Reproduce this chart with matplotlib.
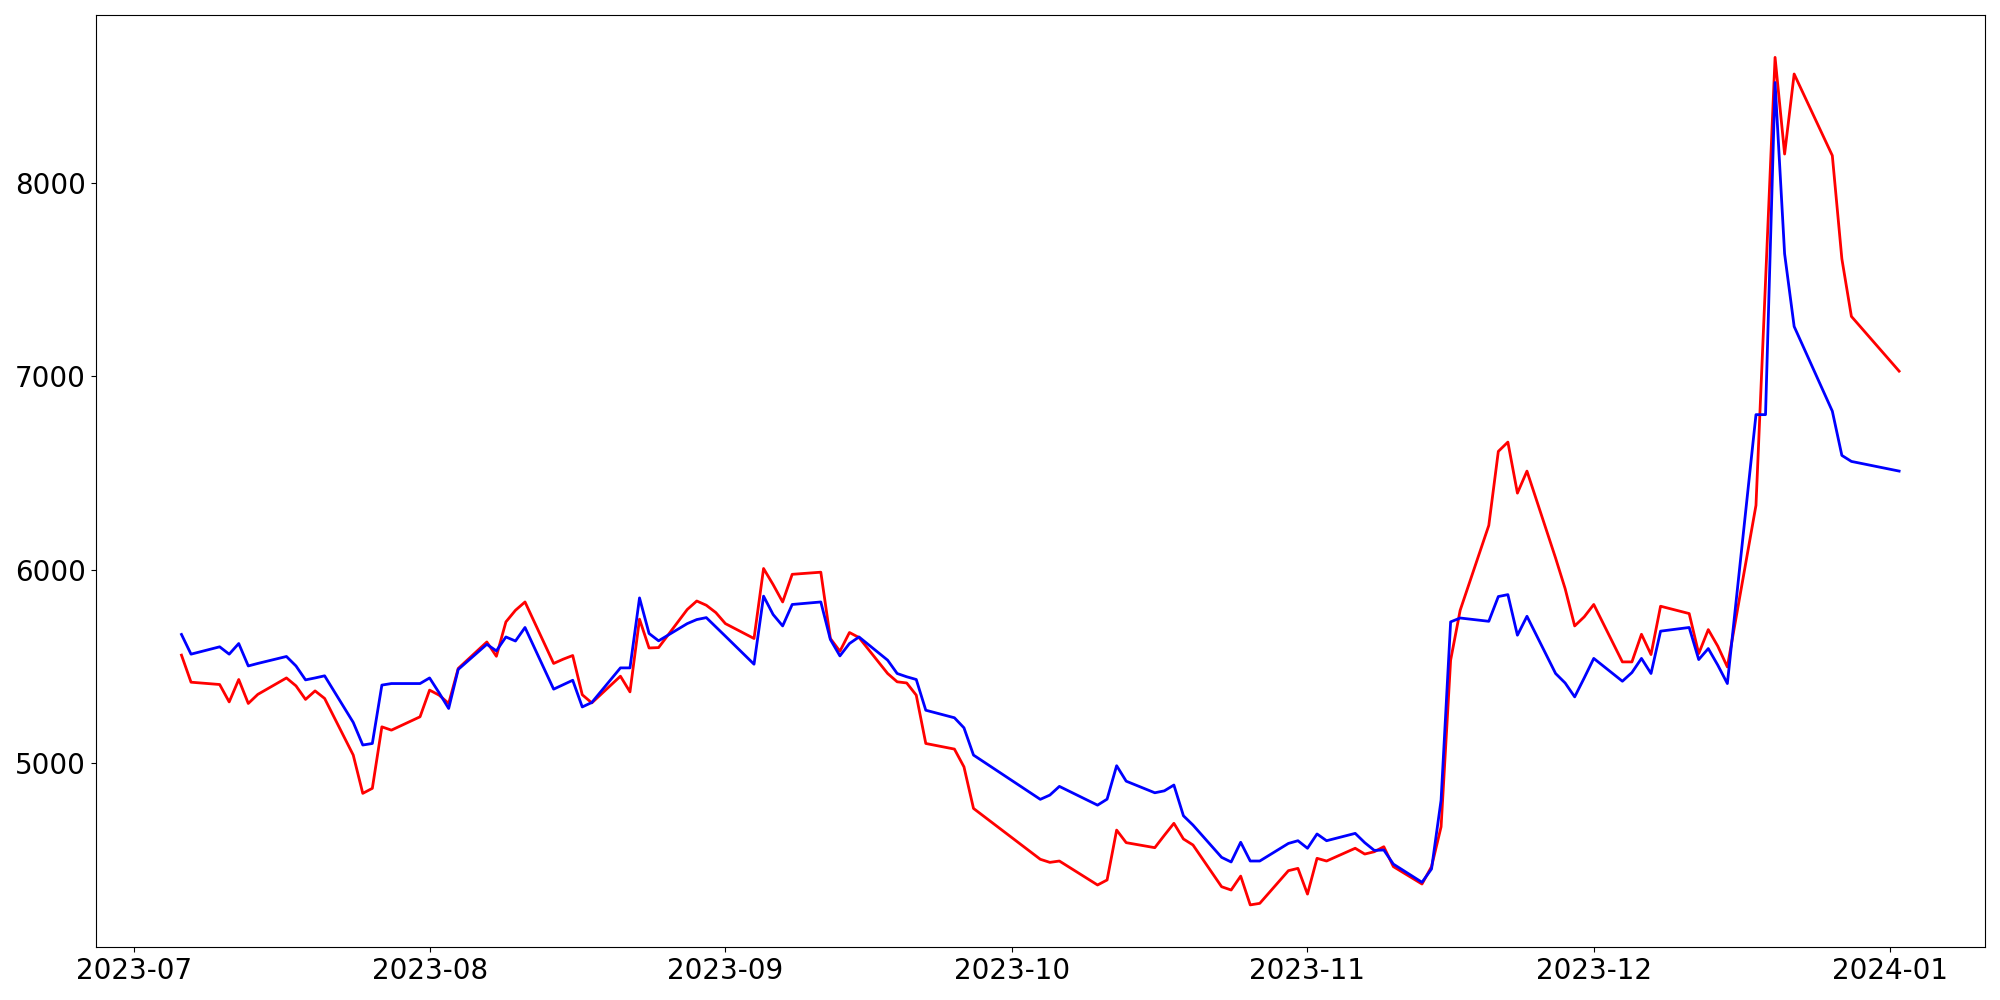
import pandas as pd
import matplotlib
matplotlib.use("Agg")
import matplotlib.pyplot as plt

dates = [
    "2023-07-06", "2023-07-07", "2023-07-10", "2023-07-11", "2023-07-12", "2023-07-13", "2023-07-14",
    "2023-07-17", "2023-07-18", "2023-07-19", "2023-07-20", "2023-07-21",
    "2023-07-24", "2023-07-25", "2023-07-26", "2023-07-27", "2023-07-28",
    "2023-07-31", "2023-08-01", "2023-08-02", "2023-08-03", "2023-08-04",
    "2023-08-07", "2023-08-08", "2023-08-09", "2023-08-10", "2023-08-11",
    "2023-08-14", "2023-08-15", "2023-08-16", "2023-08-17", "2023-08-18",
    "2023-08-21", "2023-08-22", "2023-08-23", "2023-08-24", "2023-08-25",
    "2023-08-28", "2023-08-29", "2023-08-30", "2023-08-31", "2023-09-01",
    "2023-09-04", "2023-09-05", "2023-09-06", "2023-09-07", "2023-09-08",
    "2023-09-11", "2023-09-12", "2023-09-13", "2023-09-14", "2023-09-15",
    "2023-09-18", "2023-09-19", "2023-09-20", "2023-09-21", "2023-09-22",
    "2023-09-25", "2023-09-26", "2023-09-27",
    "2023-10-04", "2023-10-05", "2023-10-06",
    "2023-10-10", "2023-10-11", "2023-10-12", "2023-10-13",
    "2023-10-16", "2023-10-17", "2023-10-18", "2023-10-19", "2023-10-20",
    "2023-10-23", "2023-10-24", "2023-10-25", "2023-10-26", "2023-10-27",
    "2023-10-30", "2023-10-31", "2023-11-01", "2023-11-02", "2023-11-03",
    "2023-11-06", "2023-11-07", "2023-11-08", "2023-11-09", "2023-11-10",
    "2023-11-13", "2023-11-14", "2023-11-15", "2023-11-16", "2023-11-17",
    "2023-11-20", "2023-11-21", "2023-11-22", "2023-11-23", "2023-11-24",
    "2023-11-27", "2023-11-28", "2023-11-29", "2023-11-30", "2023-12-01",
    "2023-12-04", "2023-12-05", "2023-12-06", "2023-12-07", "2023-12-08",
    "2023-12-11", "2023-12-12", "2023-12-13", "2023-12-14", "2023-12-15",
    "2023-12-18", "2023-12-19", "2023-12-20", "2023-12-21", "2023-12-22",
    "2023-12-26", "2023-12-27", "2023-12-28",
    "2024-01-02",
]

red_values = [
    5558, 5418, 5406, 5316, 5432, 5308, 5355,
    5440, 5399, 5329, 5373, 5334,
    5041, 4843, 4869, 5187, 5170,
    5239, 5377, 5351, 5308, 5489,
    5626, 5552, 5730, 5790, 5833,
    5515, 5537, 5556, 5353, 5311,
    5449, 5368, 5744, 5595, 5597,
    5794, 5838, 5816, 5778, 5721,
    5644, 6006, 5923, 5833, 5976,
    5987, 5644, 5578, 5675, 5649,
    5463, 5420, 5414, 5351, 5101,
    5072, 4980, 4765,
    4502, 4486, 4493,
    4369, 4395, 4653, 4588,
    4562, 4626, 4688, 4607, 4576,
    4360, 4343, 4415, 4266, 4274,
    4443, 4455, 4322, 4507, 4493,
    4559, 4529, 4541, 4567, 4464,
    4374, 4464, 4670, 5532, 5790,
    6229, 6612, 6660, 6396, 6510,
    6060, 5902, 5709, 5756, 5820,
    5523, 5523, 5666, 5561, 5811,
    5773, 5566, 5690, 5604, 5497,
    6333, 7490, 8650, 8150, 8564,
    8142, 7608, 7310,
    7027,
]

blue_values = [
    5665, 5563, 5601, 5563, 5618, 5502, 5515,
    5551, 5502, 5430, 5440, 5451,
    5210, 5093, 5101, 5403, 5411,
    5411, 5440, 5363, 5282, 5484,
    5614, 5580, 5652, 5631, 5701,
    5382, 5405, 5428, 5290, 5313,
    5492, 5492, 5854, 5670, 5632,
    5721, 5742, 5752, 5704, 5656,
    5511, 5863, 5768, 5709, 5820,
    5833, 5639, 5554, 5618, 5652,
    5532, 5463, 5446, 5432, 5273,
    5234, 5182, 5041,
    4812, 4834, 4879,
    4782, 4813, 4986, 4906,
    4846, 4856, 4886, 4727, 4679,
    4512, 4488, 4590, 4493, 4493,
    4584, 4598, 4559, 4633, 4598,
    4636, 4588, 4548, 4550, 4477,
    4383, 4452, 4808, 5730, 5750,
    5733, 5861, 5871, 5661, 5759,
    5463, 5414, 5342, 5440, 5541,
    5423, 5468, 5541, 5463, 5682,
    5701, 5535, 5592, 5506, 5411,
    6802, 6802, 8520, 7634, 7258,
    6820, 6591, 6560,
    6510,
]


def plot_lines(df):
    fig, ax = plt.subplots(figsize=(20, 10), dpi=100)
    ax.plot(df["date"], df["red"], color="red", linewidth=2)
    ax.plot(df["date"], df["blue"], color="blue", linewidth=2)
    ax.tick_params(axis="both", labelsize=20)
    plt.tight_layout()
    plt.savefig("out.png")
    plt.close()


if __name__ == "__main__":
    df = pd.DataFrame({"date": pd.to_datetime(dates), "red": red_values, "blue": blue_values})
    plot_lines(df)
